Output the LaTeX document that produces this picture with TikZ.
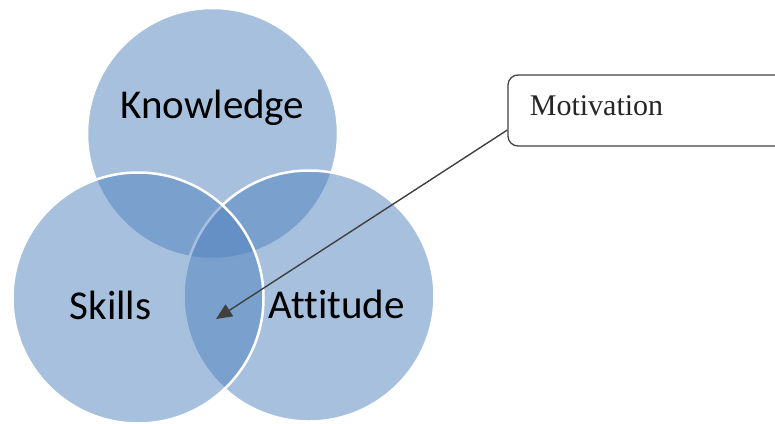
\documentclass[tikz,border=0pt]{standalone}
\usepackage{fontspec}
\setmainfont{Liberation Serif}
\newfontfamily\calibrifont[Ligatures=NoCommon]{Carlito}
\usetikzlibrary{calc}
\usetikzlibrary{arrows.meta}
\definecolor{vennblue}{HTML}{4F81BD}
\definecolor{calloutgray}{HTML}{404040}

\begin{document}
\begin{tikzpicture}[unit length/.code={{\newdimen\tikzunit}\setlength{\tikzunit}{#1}},unit length=1pt,x=\tikzunit,y=-\tikzunit,vennset/.style={circle,draw=white,line width=2.5\tikzunit,fill=vennblue,fill opacity=0.5,inner sep=0,minimum size=251\tikzunit},setlabel/.style={anchor=base,font=\calibrifont\fontsize{41}{43}\selectfont},callout/.style={rectangle,draw=calloutgray,line width=1.3\tikzunit,rounded corners=10\tikzunit,minimum width=300\tikzunit,minimum height=71\tikzunit,inner sep=0},pointer/.style={draw=calloutgray,line width=1.4\tikzunit,-{Triangle[length=16pt,width=14pt]}}]
  \useasboundingbox (0,0) rectangle (775,423);
  \clip (0,0) rectangle (775,423);
  \node[vennset] (n1) at (212.5,133.5) {};
  \node[vennset] (n2) at (309,296) {};
  \node[vennset] (n3) at (138,298) {};
  \node[setlabel] (n4) at (212.5,118) {Knowledge};
  \node[setlabel] (n5) at (336.5,318) {Attitude};
  \node[setlabel] (n6) at (110.5,319) {Skills};
  \node[callout] (n7) at (658,110.5) {};
  \node[anchor=base west,font=\fontsize{30}{32}\selectfont,text=black!85] (n8) at ($(n7.west)+(19,4.5)$) {Motivation};
  \coordinate (n9) at (216,319);
  \path[pointer] ($(n7.west)+(0,19.5)$) -- (n9);
\end{tikzpicture}
\end{document}
